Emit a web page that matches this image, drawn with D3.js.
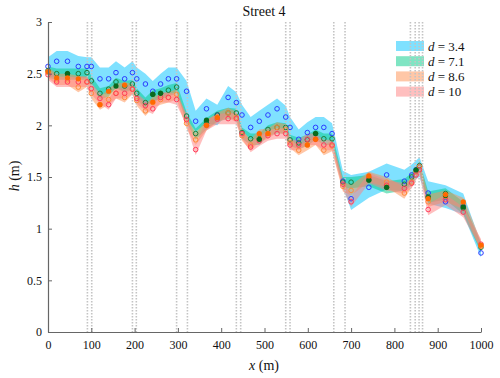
<!DOCTYPE html>
<html>
<head>
<meta charset="utf-8">
<script src="https://cdn.jsdelivr.net/npm/d3@7"></script>
<style>
  body { margin: 0; background: #fff; }
  svg text { font-family: "Liberation Serif", "Times New Roman", serif !important; fill: #111; }
</style>
</head>
<body>
<svg width="500" height="378"></svg>
<script>
// station along the street (m)
const xs = [0, 20, 45, 70, 90, 100, 120, 140, 157, 177, 195, 205, 225, 242, 260, 278, 297, 320, 341, 366, 391, 416, 435, 448, 468, 488, 508, 529, 549, 559, 579, 599, 618, 637, 656, 681, 700, 741, 782, 823, 840, 850, 858, 878, 918, 959, 1000];

// open markers, one per d
const h34 = [2.57, 2.62, 2.62, 2.57, 2.57, 2.57, 2.45, 2.45, 2.51, 2.45, 2.51, 2.45, 2.40, 2.33, 2.40, 2.45, 2.45, 2.33, 2.04, 2.16, 2.10, 2.27, 2.22, 2.10, 1.98, 2.04, 2.10, 2.16, 2.08, 1.98, 1.865, 1.93, 1.98, 1.98, 1.92, 1.46, 1.29, 1.40, 1.52, 1.46, 1.52, 1.57, 1.60, 1.345, 1.26, 1.22, 0.765];
const h71 = [2.53, 2.50, 2.50, 2.50, 2.51, 2.43, 2.31, 2.35, 2.42, 2.38, 2.40, 2.31, 2.22, 2.30, 2.31, 2.34, 2.37, 2.09, 1.92, 2.02, 2.10, 2.12, 2.12, 1.93, 1.87, 1.87, 1.96, 1.98, 1.98, 1.86, 1.83, 1.86, 1.92, 1.87, 1.87, 1.45, 1.45, 1.47, 1.40, 1.43, 1.50, 1.56, 1.61, 1.31, 1.34, 1.20, 0.82];
const h86 = [2.51, 2.44, 2.44, 2.37, 2.42, 2.31, 2.20, 2.25, 2.31, 2.27, 2.35, 2.24, 2.14, 2.22, 2.25, 2.27, 2.30, 2.02, 1.86, 2.00, 2.08, 2.12, 2.08, 1.90, 1.81, 1.89, 1.92, 1.98, 1.96, 1.83, 1.76, 1.81, 1.865, 1.76, 1.80, 1.41, 1.37, 1.50, 1.45, 1.345, 1.45, 1.55, 1.60, 1.26, 1.31, 1.24, 0.83];
const h10 = [2.49, 2.42, 2.42, 2.42, 2.42, 2.355, 2.26, 2.20, 2.31, 2.31, 2.35, 2.26, 2.19, 2.16, 2.27, 2.27, 2.25, 2.055, 1.765, 2.00, 2.06, 2.065, 2.065, 1.92, 1.79, 1.85, 1.90, 1.92, 1.92, 1.81, 1.81, 1.865, 1.865, 1.81, 1.81, 1.43, 1.26, 1.49, 1.42, 1.39, 1.44, 1.52, 1.57, 1.185, 1.28, 1.16, 0.85];

// filled markers (only where visible)
const h71f = [null, null, 2.50, null, null, null, null, null, 2.38, null, null, null, null, 2.30, 2.31, null, null, null, null, 2.05, null, null, null, null, null, 1.865, null, null, null, null, null, null, 1.92, null, null, null, null, 1.47, 1.40, null, null, 1.57, null, 1.30, 1.32, 1.21, null];
const h86f = [2.52, 2.46, 2.46, 2.45, null, null, 2.20, 2.33, null, 2.39, null, null, null, 2.225, null, null, null, null, null, 2.00, 2.075, null, null, null, null, 1.92, 1.92, null, null, null, null, 1.81, 1.865, null, null, null, null, 1.51, null, null, null, null, null, 1.29, 1.33, 1.26, 0.84];

// band edges, one pair per d
const lo34 = [2.47, 2.47, 2.47, 2.46, 2.46, 2.40, 2.30, 2.30, 2.36, 2.33, 2.36, 2.28, 2.20, 2.22, 2.26, 2.30, 2.32, 2.06, 1.94, 2.02, 2.00, 2.12, 2.10, 1.95, 1.86, 1.88, 1.94, 1.98, 1.96, 1.86, 1.80, 1.84, 1.88, 1.86, 1.84, 1.40, 1.18, 1.30, 1.38, 1.36, 1.42, 1.48, 1.50, 1.24, 1.20, 1.14, 0.72];
const hi34 = [2.66, 2.72, 2.72, 2.67, 2.66, 2.66, 2.56, 2.56, 2.62, 2.56, 2.62, 2.56, 2.50, 2.43, 2.50, 2.56, 2.56, 2.43, 2.14, 2.26, 2.20, 2.38, 2.32, 2.20, 2.08, 2.14, 2.20, 2.26, 2.19, 2.08, 1.96, 2.03, 2.08, 2.08, 2.02, 1.56, 1.52, 1.55, 1.63, 1.57, 1.62, 1.66, 1.69, 1.46, 1.42, 1.34, 0.86];
const lo71 = [2.46, 2.44, 2.44, 2.44, 2.44, 2.37, 2.25, 2.28, 2.36, 2.32, 2.34, 2.25, 2.16, 2.24, 2.25, 2.28, 2.31, 2.03, 1.86, 1.96, 2.04, 2.06, 2.06, 1.87, 1.81, 1.81, 1.90, 1.92, 1.92, 1.80, 1.77, 1.80, 1.86, 1.81, 1.81, 1.39, 1.39, 1.41, 1.34, 1.37, 1.44, 1.50, 1.55, 1.25, 1.28, 1.14, 0.77];
const hi71 = [2.57, 2.55, 2.55, 2.55, 2.55, 2.48, 2.36, 2.38, 2.46, 2.43, 2.44, 2.36, 2.27, 2.34, 2.36, 2.39, 2.41, 2.13, 1.97, 2.07, 2.14, 2.17, 2.16, 1.98, 1.92, 1.92, 2.00, 2.03, 2.02, 1.91, 1.88, 1.91, 1.96, 1.92, 1.92, 1.50, 1.50, 1.52, 1.46, 1.48, 1.54, 1.60, 1.65, 1.36, 1.39, 1.26, 0.86];
const lo86 = [2.46, 2.39, 2.39, 2.32, 2.37, 2.26, 2.15, 2.20, 2.26, 2.22, 2.30, 2.19, 2.09, 2.17, 2.20, 2.22, 2.25, 1.97, 1.81, 1.95, 2.03, 2.07, 2.03, 1.85, 1.76, 1.84, 1.87, 1.93, 1.91, 1.78, 1.71, 1.76, 1.81, 1.71, 1.75, 1.36, 1.32, 1.45, 1.40, 1.29, 1.40, 1.50, 1.55, 1.21, 1.26, 1.19, 0.78];
const hi86 = [2.56, 2.50, 2.50, 2.48, 2.47, 2.38, 2.27, 2.36, 2.40, 2.42, 2.40, 2.30, 2.20, 2.28, 2.30, 2.32, 2.35, 2.08, 1.92, 2.05, 2.12, 2.17, 2.13, 1.95, 1.86, 1.96, 1.97, 2.03, 2.01, 1.88, 1.81, 1.86, 1.91, 1.81, 1.85, 1.46, 1.42, 1.55, 1.50, 1.40, 1.50, 1.60, 1.65, 1.33, 1.37, 1.30, 0.88];
const lo10 = [2.44, 2.37, 2.37, 2.37, 2.37, 2.30, 2.21, 2.15, 2.26, 2.26, 2.30, 2.21, 2.14, 2.11, 2.22, 2.22, 2.20, 2.00, 1.71, 1.95, 2.01, 2.01, 2.01, 1.87, 1.74, 1.80, 1.85, 1.87, 1.87, 1.76, 1.76, 1.81, 1.81, 1.76, 1.76, 1.38, 1.21, 1.44, 1.37, 1.34, 1.39, 1.47, 1.52, 1.13, 1.23, 1.11, 0.80];
const hi10 = [2.54, 2.47, 2.47, 2.47, 2.47, 2.41, 2.31, 2.26, 2.36, 2.36, 2.40, 2.31, 2.24, 2.21, 2.32, 2.32, 2.30, 2.11, 1.82, 2.05, 2.11, 2.12, 2.12, 1.97, 1.84, 1.90, 1.95, 1.97, 1.97, 1.86, 1.86, 1.92, 1.92, 1.86, 1.86, 1.48, 1.31, 1.54, 1.47, 1.44, 1.49, 1.57, 1.62, 1.24, 1.33, 1.21, 0.90];

// intersections / junctions
const junctions = [91, 101, 195, 204, 297, 322, 435, 445, 549, 559, 660, 686, 837, 848, 857, 865];

const legendLabels = ["3.4", "7.1", "8.6", "10"];
const xTicks = [0, 100, 200, 300, 400, 500, 600, 700, 800, 900, 1000];
const yTicks = [0, 0.5, 1, 1.5, 2, 2.5, 3];

const svg = d3.select("svg");
const margin = {left: 48, right: 19, top: 22, bottom: 46};
const W = 500, H = 378;
const serif = "'Liberation Serif', 'Times New Roman', serif";

const x = d3.scaleLinear().domain([0, 1000]).range([margin.left, W - margin.right]);
const y = d3.scaleLinear().domain([0, 3]).range([H - margin.bottom, margin.top]);

const series = [
    {lo: lo34, hi: hi34, open: h34, fill: "#00c4ff", mark: "#2a3cff"},
    {lo: lo71, hi: hi71, open: h71, fill: "#00cc88", mark: "#1f7d3d"},
    {lo: lo86, hi: hi86, open: h86, fill: "#ff9050", mark: "#ff8a3a"},
    {lo: lo10, hi: hi10, open: h10, fill: "#ff8080", mark: "#ff3c5c"}
];

const area = d3.area()
    .x((d, i) => x(xs[i]))
    .y0(d => y(d[0]))
    .y1(d => y(d[1]));

series.forEach(s => {
    svg.append("path")
        .attr("d", area(xs.map((_, i) => [s.lo[i], s.hi[i]])))
        .attr("fill", s.fill)
        .attr("fill-opacity", 0.5);
});

// legend swatches (under the dotted lines)
const lg = svg.append("g");
legendLabels.forEach((lab, i) => {
    const yy = 41 + i * 15.2;
    lg.append("rect")
        .attr("x", 396).attr("y", yy)
        .attr("width", 28).attr("height", 10)
        .attr("fill", series[i].fill)
        .attr("fill-opacity", 0.5);
    const t = lg.append("text")
        .attr("x", 428).attr("y", yy + 9.5)
        .style("font-family", serif)
        .attr("font-size", 13);
    t.append("tspan").attr("font-style", "italic").text("d");
    t.append("tspan").text(" = " + lab);
});

// junction lines
svg.append("g").selectAll("line")
    .data(junctions)
    .join("line")
    .attr("x1", d => x(d)).attr("x2", d => x(d))
    .attr("y1", y(3)).attr("y2", y(0))
    .attr("stroke", "#c4c4c4")
    .attr("stroke-width", 1.6)
    .attr("stroke-dasharray", "1.5,1.5");

// markers
series.forEach(s => {
    svg.append("g").selectAll("circle")
        .data(xs.map((xv, i) => [xv, s.open[i]]))
        .join("circle")
        .attr("cx", d => x(d[0])).attr("cy", d => y(d[1]))
        .attr("r", 2.3)
        .attr("fill", "none")
        .attr("stroke", s.mark)
        .attr("stroke-width", 1);
});

const filled = [
    {vals: h71f, color: "#0a6a1e"},
    {vals: h86f, color: "#ff6a00"}
];
filled.forEach(f => {
    svg.append("g").selectAll("circle")
        .data(xs.map((xv, i) => [xv, f.vals[i]]).filter(d => d[1] != null))
        .join("circle")
        .attr("cx", d => x(d[0])).attr("cy", d => y(d[1]))
        .attr("r", 2.6)
        .attr("fill", f.color);
});

// axes
const xAxis = svg.append("g")
    .attr("transform", `translate(0,${y(0)})`)
    .call(d3.axisBottom(x).tickValues(xTicks).tickFormat(d3.format("d")).tickSizeInner(-4).tickSizeOuter(0).tickPadding(8));
const yAxis = svg.append("g")
    .attr("transform", `translate(${x(0)},0)`)
    .call(d3.axisLeft(y).tickValues(yTicks).tickFormat(d3.format("")).tickSizeInner(-4).tickSizeOuter(0).tickPadding(6));

[xAxis, yAxis].forEach(g => {
    g.attr("font-family", null);
    g.selectAll("path").attr("stroke", "#666").attr("stroke-width", 1.2);
    g.selectAll("line").attr("stroke", "#666");
    g.selectAll("text")
        .style("font-family", serif)
        .style("font-size", "12px")
        .attr("fill", "#111");
});

// titles
svg.append("text")
    .attr("x", 264).attr("y", 16)
    .attr("text-anchor", "middle")
    .style("font-family", serif)
    .attr("font-size", 14)
    .text("Street 4");

const xl = svg.append("text")
    .attr("x", 264).attr("y", 370)
    .attr("text-anchor", "middle")
    .style("font-family", serif)
    .attr("font-size", 14);
xl.append("tspan").attr("font-style", "italic").text("x");
xl.append("tspan").text(" (m)");

const yl = svg.append("text")
    .attr("transform", "translate(19,176) rotate(-90)")
    .attr("text-anchor", "middle")
    .style("font-family", serif)
    .attr("font-size", 14);
yl.append("tspan").attr("font-style", "italic").text("h");
yl.append("tspan").text(" (m)");
</script>
</body>
</html>
